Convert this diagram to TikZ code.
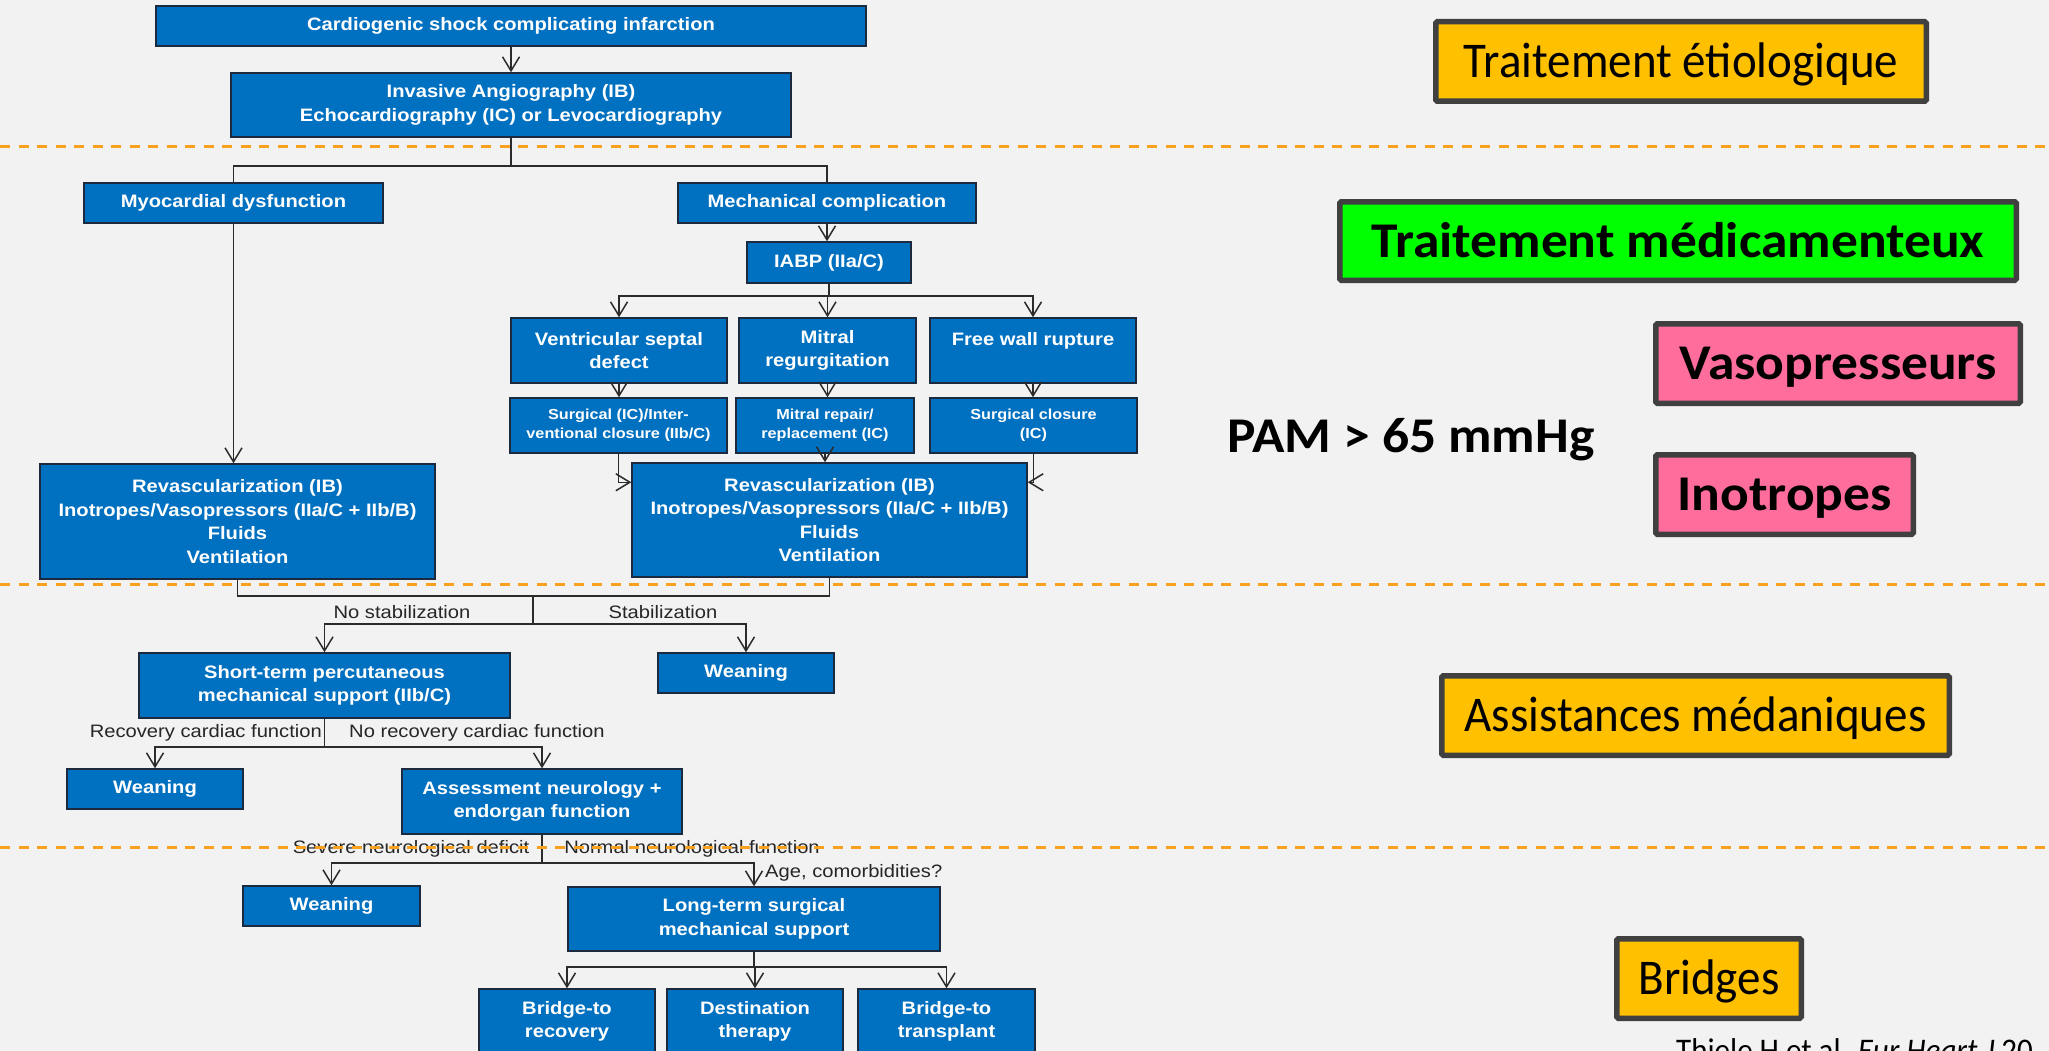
\documentclass[tikz,border=0pt]{standalone}
\usepackage{fontspec}
\setmainfont{Liberation Sans}
\newfontfamily\flowfont{Liberation Sans}[FakeStretch=1.12]
\newfontfamily\tagfont{Carlito}[FakeStretch=0.94]
\newfontfamily\tagboldfont{Carlito}[FakeStretch=1.07]
\usetikzlibrary{arrows.meta,calc}
\definecolor{bg}{HTML}{F2F2F2}
\definecolor{boxblue}{HTML}{0070C0}
\definecolor{boxedge}{HTML}{1B2A3F}
\definecolor{wirecol}{HTML}{2B2B2B}
\definecolor{dashorange}{HTML}{F7A11E}
\definecolor{tagedge}{HTML}{404040}
\definecolor{tagorange}{HTML}{FFC000}
\definecolor{taggreen}{HTML}{00FF00}
\definecolor{tagpink}{HTML}{FF6D9C}

\begin{document}
\begin{tikzpicture}[x=1pt,y=-1pt,
  flow/.style={draw=boxedge, line width=1.5pt, fill=boxblue, text=white, inner sep=0pt, align=center,
               font=\flowfont\bfseries\fontsize{18}{23.5}\selectfont},
  small/.style={flow, font=\flowfont\bfseries\fontsize{14.5}{19}\selectfont},
  wire/.style={draw=wirecol, line width=1.5pt},
  arr/.style={wire, -{Straight Barb[length=14pt,width=17pt,line width=1.5pt]}},
  lbl/.style={text=black!85, inner sep=0pt, font=\flowfont\fontsize{18}{22}\selectfont},
  sep/.style={draw=dashorange, line width=3pt, dash pattern=on 10pt off 8.5pt},
  tag/.style={draw=tagedge, line width=5.5pt, rounded corners=1.5pt, inner sep=0pt, text=black},
  tagreg/.style={tag, font=\tagfont\fontsize{50}{54}\selectfont, text height=32pt, text depth=0pt},
  tagbold/.style={tag, font=\tagboldfont\bfseries\fontsize{50}{54}\selectfont, text height=32pt, text depth=0pt},
]
\useasboundingbox (0,0) rectangle (2049,1051);
\clip (0,0) rectangle (2049,1051);
\fill[bg] (0,0) rectangle (2049,1051);

% ---------- flowchart boxes ----------
\node[flow, minimum width=710pt, minimum height=40pt] (shock) at (511,26) {Cardiogenic shock complicating infarction};
\node[flow, minimum width=560pt, minimum height=64pt] (angio) at (511,105) {Invasive Angiography (IB)\\Echocardiography (IC) or Levocardiography};
\node[flow, minimum width=299pt, minimum height=40pt] (myo) at (233.5,203) {Myocardial dysfunction};
\node[flow, minimum width=298pt, minimum height=40pt] (mech) at (827,203) {Mechanical complication};
\node[flow, minimum width=164pt, minimum height=41pt] (iabp) at (829,262.5) {IABP (IIa/C)};
\node[flow, minimum width=216pt, minimum height=65pt] (vsd) at (619,350.5) {Ventricular septal\\defect};
\node[flow, minimum width=177pt, minimum height=65pt] (mitral) at (827.5,350.5) {Mitral\\regurgitation};
\node[flow, minimum width=206pt, minimum height=65pt] (rupture) at (1033,350.5) {Free wall rupture\\\mbox{}};
\node[small, minimum width=217pt, minimum height=55pt] (closure) at (618.5,425.5) {Surgical (IC)/Inter-\\ventional closure (IIb/C)};
\node[small, minimum width=178pt, minimum height=55pt] (repair) at (825,425.5) {Mitral repair/\\replacement (IC)};
\node[small, minimum width=207pt, minimum height=55pt] (surgclose) at (1033.5,425.5) {Surgical closure\\(IC)};
\node[flow, minimum width=395pt, minimum height=115pt] (revL) at (237.5,521.5) {Revascularization (IB)\\Inotropes/Vasopressors (IIa/C + IIb/B)\\Fluids\\Ventilation};
\node[flow, minimum width=395pt, minimum height=114pt] (revR) at (829.5,520) {Revascularization (IB)\\Inotropes/Vasopressors (IIa/C + IIb/B)\\Fluids\\Ventilation};
\node[flow, minimum width=371pt, minimum height=65pt] (short) at (324.5,685.5) {Short-term percutaneous\\mechanical support (IIb/C)};
\node[flow, minimum width=176pt, minimum height=40pt] (weanA) at (746,673) {Weaning};
\node[flow, minimum width=176pt, minimum height=40pt] (weanB) at (155,789) {Weaning};
\node[flow, minimum width=280pt, minimum height=65pt] (assess) at (542,801.5) {Assessment neurology +\\endorgan function};
\node[flow, minimum width=177pt, minimum height=40pt] (weanC) at (331.5,906) {Weaning};
\node[flow, minimum width=372pt, minimum height=64pt] (longterm) at (754,919) {Long-term surgical\\mechanical support};
\node[flow, minimum width=176pt, minimum height=65pt] (bridgeR) at (567,1021.5) {Bridge-to\\recovery};
\node[flow, minimum width=176pt, minimum height=65pt] (dest) at (755,1021.5) {Destination\\therapy};
\node[flow, minimum width=177pt, minimum height=65pt] (bridgeT) at (946.5,1021.5) {Bridge-to\\transplant};

% ---------- connectors ----------
\draw[arr] (shock.south) -- (angio.north);
\coordinate (j1) at (511,166);
\draw[wire] (angio.south) -- (j1);
\draw[wire] (j1) -| (myo.north);
\draw[wire] (j1) -| (mech.north);
\draw[arr] (myo.south) -- (myo.south |- revL.north);
\draw[arr] (mech.south) -- (mech.south |- iabp.north);
\coordinate (j2) at (829,296);
\draw[wire] (iabp.south) -- (j2);
\draw[arr] (j2) -| (vsd.north);
\draw[arr] (j2) -| (mitral.north);
\draw[arr] (j2) -| (rupture.north);
\draw[arr] (vsd.south) -- (vsd.south |- closure.north);
\draw[arr] (mitral.south) -- (mitral.south |- repair.north);
\draw[arr] (rupture.south) -- (rupture.south |- surgclose.north);
\draw[arr] (closure.south) |- ($(revR.north west)+(0,20)$);
\draw[arr] (surgclose.south) |- ($(revR.north east)+(0,20)$);
\draw[arr] (repair.south) -- (repair.south |- revR.north);

\coordinate (j3) at (533,596);
\coordinate (j4) at (533,624);
\draw[wire] (revL.south) |- (j3);
\draw[wire] (revR.south) |- (j3);
\draw[wire] (j3) -- (j4);
\draw[arr] (j4) -| (short.north);
\draw[arr] (j4) -| (weanA.north);

\coordinate (j5) at (324.5,747);
\draw[wire] (short.south) -- (j5);
\draw[arr] (j5) -| (weanB.north);
\draw[arr] (j5) -| (assess.north);

\coordinate (j6) at (542,863);
\draw[wire] (assess.south) -- (j6);
\draw[arr] (j6) -| (weanC.north);
\draw[arr] (j6) -| (longterm.north);

\coordinate (j7) at (754,967);
\draw[wire] (longterm.south) -- (j7);
\draw[arr] (j7) -| (bridgeR.north);
\draw[arr] (j7) -| (dest.north);
\draw[arr] (j7) -| (bridgeT.north);

% ---------- branch labels ----------
\node[lbl] (nostab) at (402,612) {No stabilization};
\node[lbl] (stab) at (663,612) {Stabilization};
\node[lbl, anchor=east] (recov) at (322,733) {Recovery cardiac function};
\node[lbl, anchor=west] (norecov) at (349,733) {No recovery cardiac function};
\node[lbl] (severe) at (411,849) {Severe neurological deficit};
\node[lbl] (normal) at (692,849) {Normal neurological function};
\node[lbl, anchor=west] (age) at (765,873) {Age, comorbidities?};

% ---------- section separators ----------
\draw[sep] (0,147) -- (2049,147);
\draw[sep] (0,584) -- (2049,584);
\draw[sep] (0,847) -- (2049,847);

% ---------- treatment tags ----------
\node[tagreg, fill=tagorange, minimum width=490.5pt, minimum height=79.5pt] (etio) at (1681,61.5) {Traitement étiologique};
\node[tagbold, fill=taggreen, minimum width=676.5pt, minimum height=78.5pt] (medic) at (1678,241) {Traitement médicamenteux};
\node[tagbold, fill=tagpink, minimum width=364.5pt, minimum height=79.5pt] (vaso) at (1838,363.5) {Vasopresseurs};
\node[tagbold, fill=tagpink, minimum width=257.5pt, minimum height=79.5pt] (ino) at (1784.5,494.5) {Inotropes};
\node[tagreg, fill=tagorange, minimum width=507.5pt, minimum height=79.5pt] (assist) at (1695.5,715.5) {Assistances médaniques};
\node[tagreg, fill=tagorange, minimum width=184.5pt, minimum height=79.5pt] (bridges) at (1709,978.5) {Bridges};
\node[anchor=base west, inner sep=0pt, font=\tagboldfont\bfseries\fontsize{50}{54}\selectfont] (pam) at (1227,452) {PAM > 65 mmHg};
\node[anchor=base west, inner sep=0pt, font=\tagfont\fontsize{33}{36}\selectfont] (cite) at (1676,1061) {Thiele H et al. \textit{Eur Heart J} 20};
\end{tikzpicture}
\end{document}
